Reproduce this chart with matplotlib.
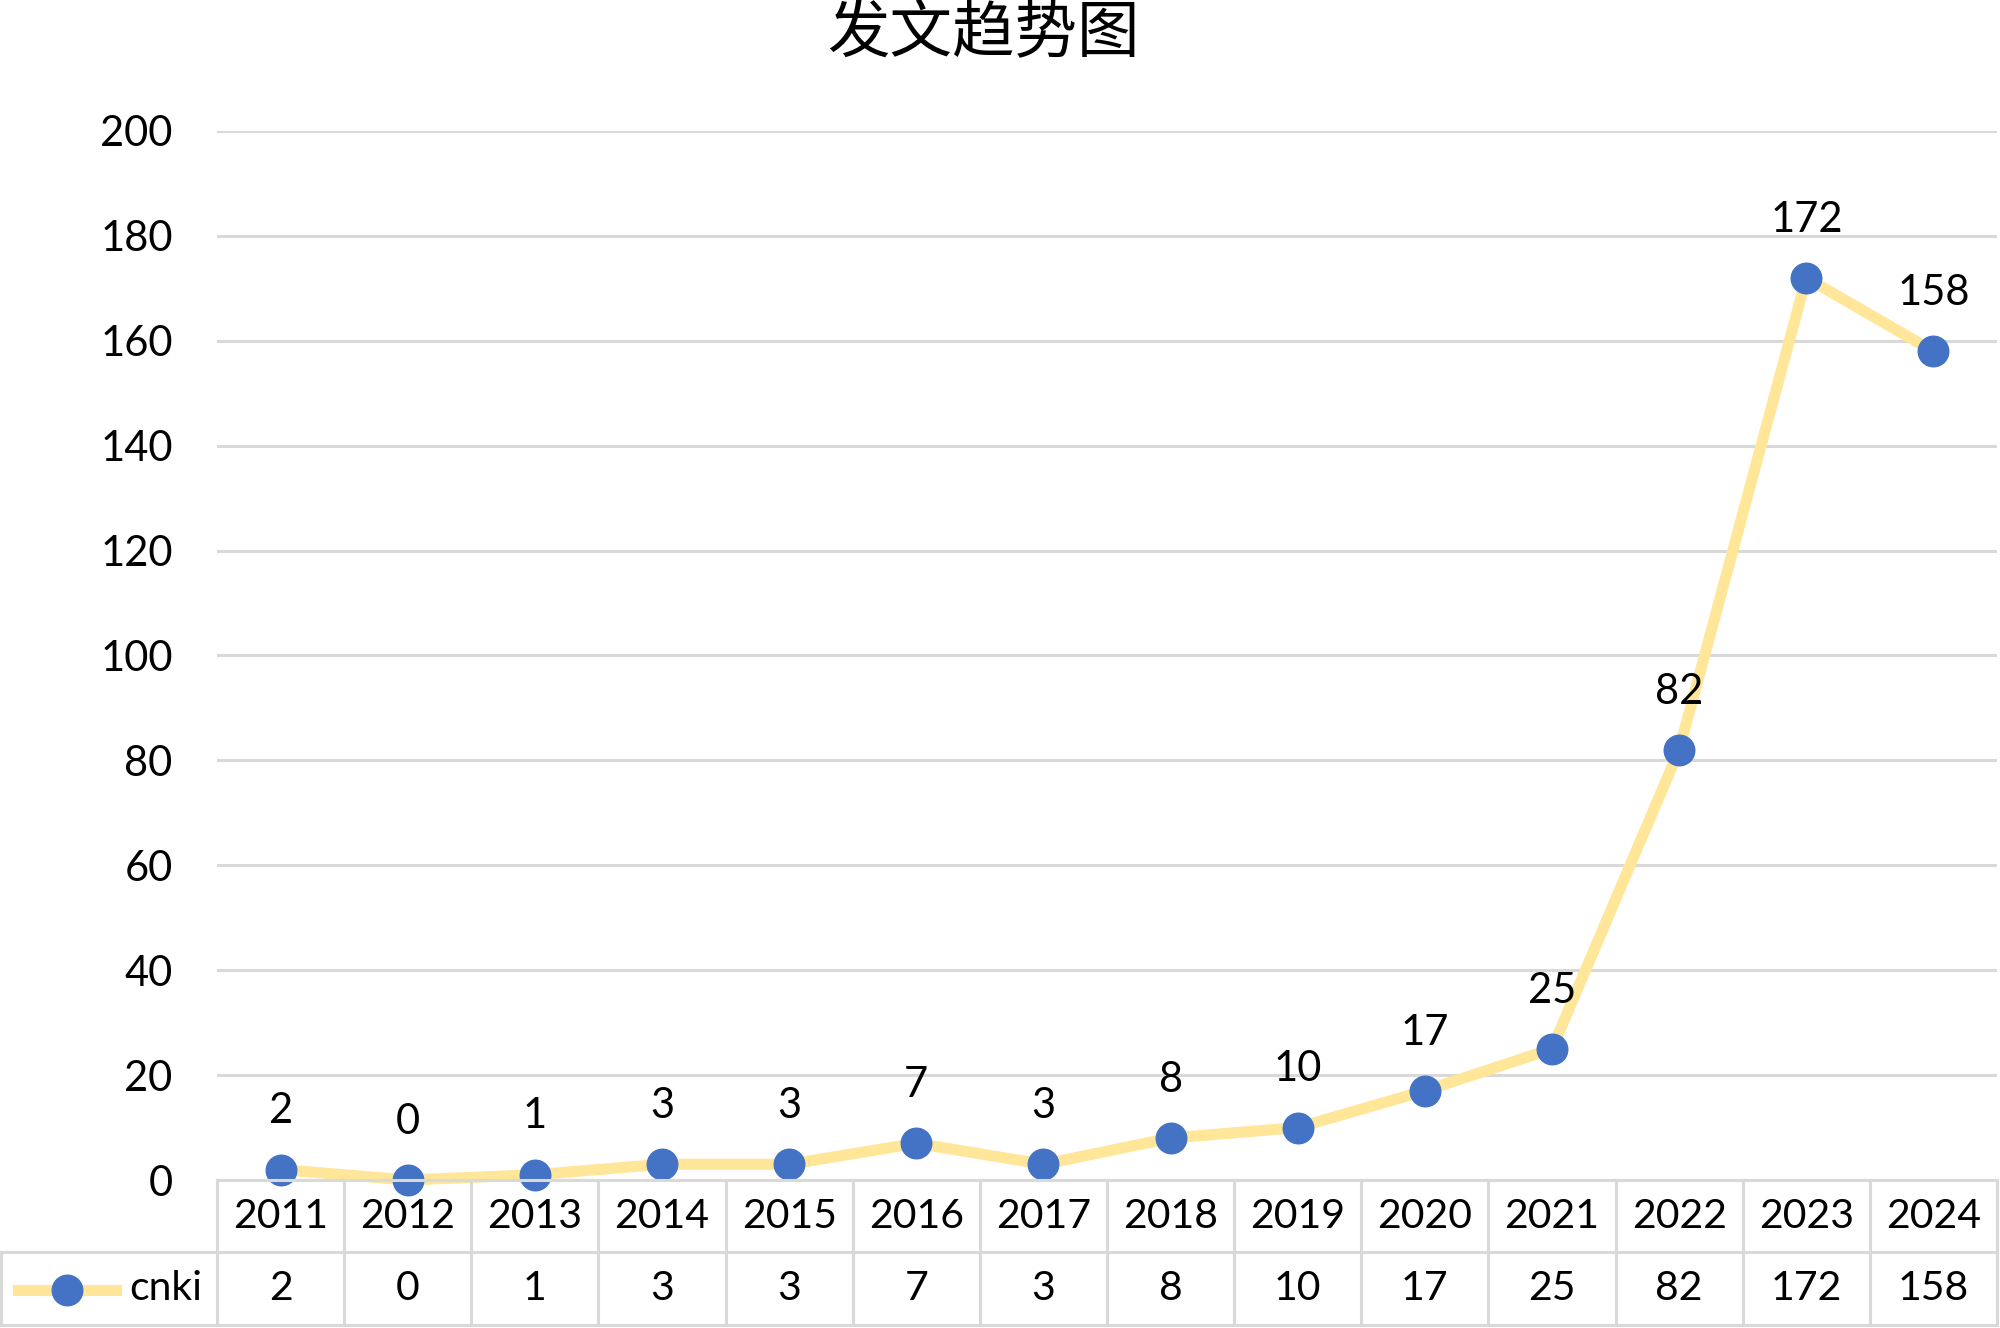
import matplotlib
matplotlib.use("Agg")
import matplotlib.pyplot as plt
from matplotlib.transforms import blended_transform_factory
from matplotlib.lines import Line2D

years = ["2011", "2012", "2013", "2014", "2015", "2016", "2017",
         "2018", "2019", "2020", "2021", "2022", "2023", "2024"]
cnki = [2, 0, 1, 3, 3, 7, 3, 8, 10, 17, 25, 82, 172, 158]
yticks = [0, 20, 40, 60, 80, 100, 120, 140, 160, 180, 200]
series_name = "cnki"
title = "发文趋势图"

LINE_C = "#FFE699"
MARK_C = "#4472C4"
GRID_C = "#D9D9D9"
FONT = ["Lato", "DejaVu Sans"]

W, H = 2000, 1328
fig = plt.figure(figsize=(W / 100, H / 100), dpi=100)
left_px, right_px, top_px, bot_px = 217, 1997, 131, 1180
ax = fig.add_axes([left_px / W, 1 - bot_px / H, (right_px - left_px) / W, (bot_px - top_px) / H])

x = list(range(len(years)))
ax.plot(x, cnki, color=LINE_C, lw=8, zorder=3, clip_on=False, solid_capstyle="round")
ax.plot(x, cnki, ls="none", marker="o", ms=22, color=MARK_C, zorder=4, clip_on=False)
for xi, v in zip(x, cnki):
    ax.annotate(str(v), (xi, v), xytext=(0, 42), textcoords="offset points",
                ha="center", va="center", fontsize=30, family=FONT, color="black")

ax.set_xlim(-0.5, len(years) - 0.5)
ax.set_ylim(0, 200)
ax.set_yticks(yticks)
ax.set_yticklabels([str(t) for t in yticks], fontsize=30, family=FONT)
ax.tick_params(axis="y", length=0, pad=32)
ax.set_xticks([])
ax.grid(axis="y", color=GRID_C, lw=2.2)
ax.set_axisbelow(True)
for s in ax.spines.values():
    s.set_visible(False)

# data table
tr = blended_transform_factory(ax.transData, fig.transFigure)
def fy(px):
    return 1 - px / H
row1_top, row_mid, row_bot = 1180, 1252, 1325
lw_t = 2.2
fig.add_artist(Line2D([left_px / W, right_px / W], [fy(row1_top)] * 2, color=GRID_C, lw=lw_t))
fig.add_artist(Line2D([1 / W, right_px / W], [fy(row_mid)] * 2, color=GRID_C, lw=lw_t))
fig.add_artist(Line2D([1 / W, right_px / W], [fy(row_bot)] * 2, color=GRID_C, lw=lw_t))
fig.add_artist(Line2D([1 / W, 1 / W], [fy(row_mid), fy(row_bot)], color=GRID_C, lw=lw_t))
for b in range(len(years) + 1):
    fig.add_artist(Line2D([b - 0.5, b - 0.5], [fy(row1_top), fy(row_bot)], color=GRID_C,
                          lw=lw_t, transform=tr))
for xi, yr, v in zip(x, years, cnki):
    fig.text(xi, fy(1216), yr, transform=tr, ha="center", va="center", fontsize=29.5, family=FONT)
    fig.text(xi, fy(1288), str(v), transform=tr, ha="center", va="center", fontsize=29.5, family=FONT)

# legend key in table
fig.add_artist(Line2D([18 / W, 116 / W], [fy(1290)] * 2, color=LINE_C, lw=8))
fig.add_artist(Line2D([67 / W], [fy(1290)], color=MARK_C, marker="o", ms=22, ls="none"))
fig.text(129 / W, fy(1288), series_name, ha="left", va="center", fontsize=29.5, family=FONT)

fig.text(0.4915, fy(33), title, ha="center", va="center", fontsize=45,
         family=["Noto Sans CJK SC", "DejaVu Sans"])

fig.savefig("out.png", dpi=100, facecolor="white")
